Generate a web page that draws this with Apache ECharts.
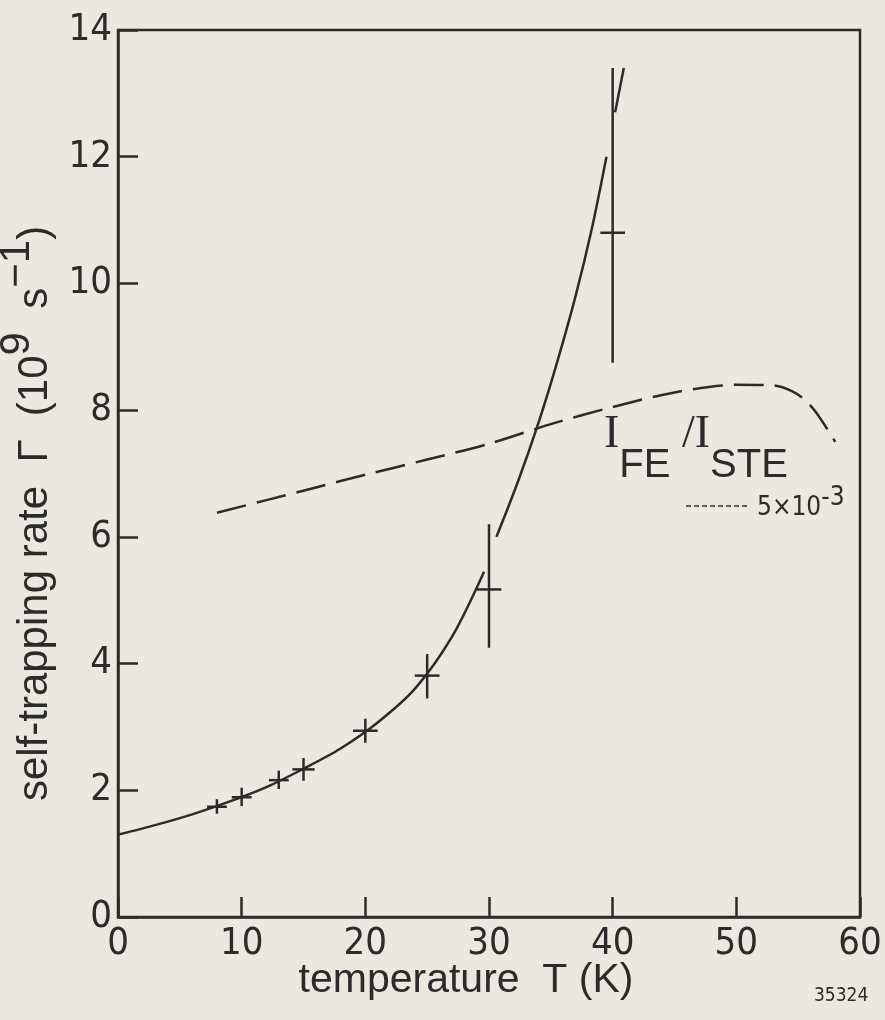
<!DOCTYPE html>
<html>
<head>
<meta charset="utf-8">
<script src="https://cdn.jsdelivr.net/npm/echarts@6/dist/echarts.min.js"></script>
<style>
  html, body { margin: 0; padding: 0; background: #ebe8e1; }
  #chart { width: 885px; height: 1020px; }
</style>
</head>
<body>
<div id="chart"></div>
<script>
// measured self-trapping rates with error bars
const pointT = [8, 10, 13, 15, 20, 25, 30, 40];
const pointG = [1.74, 1.89, 2.16, 2.33, 2.94, 3.81, 5.17, 10.8];
const gLow = [1.63, 1.75, 2.02, 2.15, 2.75, 3.45, 4.25, 8.75];
const gHigh = [1.86, 2.04, 2.31, 2.51, 3.13, 4.15, 6.2, 13.4];
const tErr = [0.8, 0.8, 0.8, 0.9, 1.0, 1.0, 1.0, 1.0];

// solid fitted curve (null = gap in the drawing)
const fitT = [0, 3, 6, 9, 12, 15, 18, 21, 24, 27, 29.6, null, 30.6, 32.3, 34, 35.5, 37, 38.3, 39.5, null, 40.2, 40.9];
const fitG = [1.30, 1.45, 1.62, 1.82, 2.05, 2.34, 2.66, 3.07, 3.60, 4.42, 5.45, null, 6.0, 6.85, 7.8, 8.75, 9.8, 10.85, 12.0, null, 12.7, 13.4];

// dashed I_FE/I_STE curve
const dashT = [8, 12, 16, 20, 25, 30, 35, 40, 45, 50, 53, 54.5, 55.6, 56.5, 58];
const dashG = [6.38, 6.58, 6.78, 6.98, 7.22, 7.47, 7.78, 8.05, 8.28, 8.4, 8.39, 8.3, 8.15, 7.95, 7.5];

const xTicks = [0, 10, 20, 30, 40, 50, 60];
const yTicks = [0, 2, 4, 6, 8, 10, 12, 14];

const ink = '#2b2b2b';
const narrow = '"Liberation Sans Narrow", "DejaVu Sans Condensed", sans-serif';
const sans = '"Liberation Sans", "DejaVu Sans", sans-serif';

const chart = echarts.init(document.getElementById('chart'));

const option = {
  backgroundColor: '#ebe8e1',
  animation: false,
  grid: {
    left: 118,
    right: 25,
    top: 30,
    bottom: 103,
    outerBoundsMode: 'none',
    containLabel: false,
    show: true,
    borderColor: ink,
    borderWidth: 2.5,
  },
  xAxis: {
    type: 'value',
    min: xTicks[0],
    max: xTicks[xTicks.length - 1],
    interval: 10,
    name: 'temperature  T (K)',
    nameLocation: 'middle',
    nameGap: 43,
    nameMoveOverlap: false,
    nameTextStyle: { fontFamily: sans, fontSize: 41, color: ink, padding: [0, 46, 0, 0] },
    axisLine: { lineStyle: { color: ink, width: 2.5 } },
    axisTick: { inside: true, length: 20, lineStyle: { color: ink, width: 2.5 } },
    axisLabel: { fontFamily: narrow, fontSize: 38, color: ink, margin: 8 },
    splitLine: { show: false },
  },
  yAxis: {
    type: 'value',
    min: yTicks[0],
    max: yTicks[yTicks.length - 1],
    interval: 2,
    name: '{t|self-trapping rate  Γ  (10}{sup|9}{t|  s}{sup|−1}{t|)}',
    nameLocation: 'middle',
    nameGap: 62,
    nameMoveOverlap: false,
    nameTextStyle: {
      fontFamily: sans,
      fontSize: 42,
      color: ink,
      padding: [0, 80, 0, 0],
      rich: {
        t: { fontFamily: sans, fontSize: 42, color: ink, verticalAlign: 'bottom', lineHeight: 60 },
        sup: { fontFamily: sans, fontSize: 42, color: ink, verticalAlign: 'top', lineHeight: 60 },
      },
    },
    axisLine: { lineStyle: { color: ink, width: 2.5 } },
    axisTick: { inside: true, length: 20, lineStyle: { color: ink, width: 2.5 } },
    axisLabel: { fontFamily: narrow, fontSize: 38, color: ink, margin: 6 },
    splitLine: { show: false },
  },
  series: [
    {
      name: 'fit',
      type: 'line',
      data: fitT.map((t, i) => (t === null ? [null, null] : [t, fitG[i]])),
      smooth: 0.3,
      connectNulls: false,
      showSymbol: false,
      lineStyle: { color: ink, width: 2.5 },
    },
    {
      name: 'ratio',
      type: 'line',
      data: dashT.map((t, i) => [t, dashG[i]]),
      smooth: 0.3,
      showSymbol: false,
      lineStyle: { color: ink, width: 2.5, type: [30, 11] },
    },
    {
      name: 'points',
      type: 'custom',
      data: pointT.map((t, i) => [t, pointG[i], gLow[i], gHigh[i], tErr[i]]),
      renderItem: (params, api) => {
        const t = api.value(0);
        const g = api.value(1);
        const e = api.value(4);
        const top = api.coord([t, api.value(3)]);
        const bot = api.coord([t, api.value(2)]);
        const l = api.coord([t - e, g]);
        const r = api.coord([t + e, g]);
        const style = { stroke: ink, lineWidth: 2.5 };
        return {
          type: 'group',
          children: [
            { type: 'line', shape: { x1: top[0], y1: top[1], x2: bot[0], y2: bot[1] }, style },
            { type: 'line', shape: { x1: l[0], y1: l[1], x2: r[0], y2: r[1] }, style },
          ],
        };
      },
    },
  ],
  graphic: [
    {
      type: 'text',
      left: 604,
      top: 412,
      style: {
        text: '{i|I}{s|FE}{i| /I}{s|STE}',
        fill: ink,
        rich: {
          i: { fontFamily: '"Liberation Serif", serif', fontSize: 46, fill: ink, verticalAlign: 'top', lineHeight: 74 },
          s: { fontFamily: sans, fontSize: 40, fill: ink, verticalAlign: 'bottom', lineHeight: 74 },
        },
      },
    },
    {
      type: 'line',
      shape: { x1: 686, y1: 506, x2: 748, y2: 506 },
      style: { stroke: ink, lineWidth: 1.5, lineDash: [5, 3] },
    },
    {
      type: 'text',
      left: 757,
      top: 485,
      style: {
        text: '{n|5×10}{e|-3}',
        fill: ink,
        rich: {
          n: { fontFamily: narrow, fontSize: 26, fill: ink, verticalAlign: 'bottom', lineHeight: 36 },
          e: { fontFamily: narrow, fontSize: 26, fill: ink, verticalAlign: 'top', lineHeight: 36 },
        },
      },
    },
    {
      type: 'text',
      left: 814,
      top: 987,
      style: { text: '35324', fontFamily: narrow, fontSize: 19, fill: ink },
    },
  ],
};

chart.setOption(option);
</script>
</body>
</html>
